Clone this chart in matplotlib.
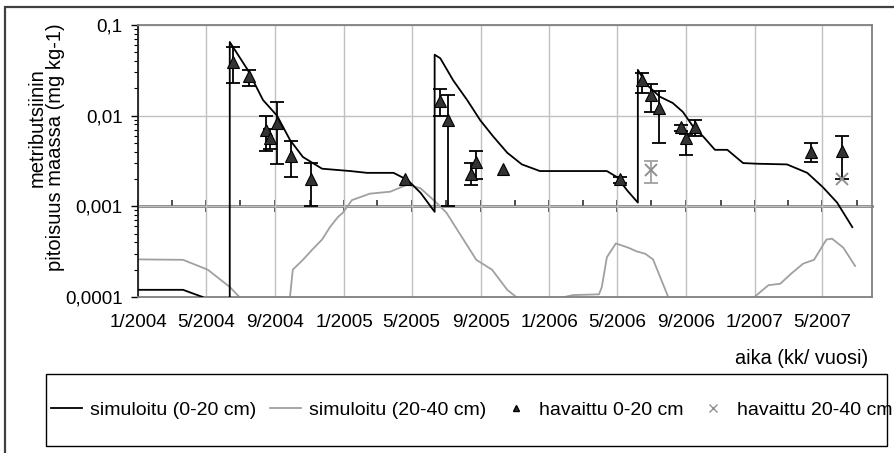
import numpy as np
import matplotlib
matplotlib.use("Agg")
import matplotlib.pyplot as plt
import matplotlib.dates as mdates
from matplotlib.lines import Line2D
from matplotlib.patches import Rectangle

plt.rcParams['font.family'] = ['Liberation Sans', 'DejaVu Sans']
plt.rcParams['font.size'] = 14.3

# simulated concentration, 0-20 cm layer (application days appear twice: before/after)
sim_top_dates = [
    '2004-01-01', '2004-03-21', '2004-04-10', '2004-04-25', '2004-05-15', '2004-06-12',
    '2004-06-12', '2004-07-14', '2004-08-10', '2004-09-04', '2004-09-27', '2004-10-20',
    '2004-11-23', '2005-01-12', '2005-02-11', '2005-03-30', '2005-04-24', '2005-05-17',
    '2005-06-11', '2005-06-11', '2005-06-21', '2005-07-14', '2005-08-08', '2005-08-31',
    '2005-09-23', '2005-10-18', '2005-11-13', '2005-12-15', '2006-04-13', '2006-05-01',
    '2006-05-19', '2006-06-07', '2006-06-07', '2006-06-23', '2006-07-16', '2006-08-08',
    '2006-08-26', '2006-09-13', '2006-10-01', '2006-10-22', '2006-11-13', '2006-12-11',
    '2007-01-05', '2007-02-27', '2007-04-04', '2007-05-02', '2007-05-27', '2007-06-23',
]
sim_top_values = [
    0.00012, 0.00012, 0.000108, 0.0001, 0.00007, 0.00004,
    0.065, 0.0319, 0.0149, 0.0100, 0.0054, 0.0035,
    0.0026, 0.00245, 0.00234, 0.00234, 0.00195, 0.00141,
    0.00087, 0.047, 0.043, 0.0245, 0.0148, 0.0089,
    0.0059, 0.0039, 0.0029, 0.00245, 0.00245, 0.0021,
    0.0015, 0.0011, 0.032, 0.0219, 0.0162, 0.0138,
    0.011, 0.0076, 0.0059, 0.0042, 0.0042, 0.0030,
    0.00295, 0.0029, 0.00234, 0.00162, 0.0011, 0.00059,
]

# simulated concentration, 20-40 cm layer
sim_sub_dates = [
    '2004-01-01', '2004-03-21', '2004-05-04', '2004-06-12', '2004-07-04', '2004-08-15',
    '2004-09-27', '2004-10-02', '2004-10-20', '2004-11-05', '2004-11-23', '2004-12-07',
    '2004-12-21', '2004-12-30', '2005-01-15', '2005-02-16', '2005-03-24', '2005-04-24',
    '2005-05-17', '2005-06-14', '2005-07-02', '2005-08-24', '2005-09-21', '2005-10-18',
    '2005-11-03', '2005-12-15', '2006-01-18', '2006-02-12', '2006-03-30', '2006-04-04',
    '2006-04-13', '2006-04-29', '2006-05-21', '2006-06-04', '2006-06-20', '2006-07-04',
    '2006-07-31', '2006-09-30', '2006-12-31', '2007-01-25', '2007-02-15', '2007-03-06',
    '2007-03-28', '2007-04-16', '2007-05-08', '2007-05-18', '2007-06-07', '2007-06-28',
]
sim_sub_values = [
    0.00026, 0.000257, 0.0002, 0.000129, 0.000093, 0.00005,
    0.0001, 0.0002, 0.000257, 0.00033, 0.00043, 0.00059,
    0.00076, 0.00085, 0.00117, 0.00138, 0.00145, 0.00174,
    0.00158, 0.0011, 0.00085, 0.000257, 0.0002, 0.00012,
    0.0001, 0.00006, 0.000097, 0.000105, 0.000107, 0.000129,
    0.000275, 0.00039, 0.00035, 0.00032, 0.0003, 0.00026,
    0.0001, 0.00005, 0.0001, 0.000135, 0.00014, 0.00018,
    0.000234, 0.000257, 0.00043, 0.00044, 0.00035, 0.00022,
]

# measured 0-20 cm: mean with min/max (nan = no range given)
obs_top_dates = [
    '2004-06-17', '2004-07-16', '2004-08-15', '2004-08-22', '2004-09-04', '2004-09-29',
    '2004-11-03', '2005-04-19', '2005-06-20', '2005-07-04', '2005-08-14', '2005-08-23',
    '2005-10-10', '2006-05-06', '2006-06-14', '2006-07-01', '2006-07-14', '2006-08-22',
    '2006-08-31', '2006-09-17', '2007-04-11', '2007-06-04',
]
obs_top_values = [
    0.039, 0.0275, 0.0069, 0.0056, 0.0083, 0.0036,
    0.0020, 0.0020, 0.0145, 0.0089, 0.0023, 0.0031,
    0.0026, 0.0020, 0.0247, 0.017, 0.012, 0.0075,
    0.0057, 0.0075, 0.0040, 0.0041,
]
obs_top_low = [
    0.023, 0.021, 0.0041, 0.0043, 0.0029, 0.0021,
    0.001, np.nan, 0.010, 0.001, 0.0017, 0.0020,
    np.nan, 0.0018, 0.0178, 0.011, 0.0050, 0.0068,
    0.0037, 0.0059, 0.0031, 0.0020,
]
obs_top_high = [
    0.057, 0.032, 0.0098, 0.0072, 0.014, 0.0052,
    0.0030, np.nan, 0.0196, 0.017, 0.0030, 0.0041,
    np.nan, 0.0021, 0.0295, 0.0224, 0.0187, 0.0079,
    0.0063, 0.0089, 0.0050, 0.0060,
]

# measured 20-40 cm
obs_sub_dates = ['2006-07-01', '2007-06-04']
obs_sub_values = [0.0025, 0.0020]
obs_sub_low = [0.0018, np.nan]
obs_sub_high = [0.0032, np.nan]

y_ticks = [0.0001, 0.001, 0.01, 0.1]
y_tick_labels = ['0,0001', '0,001', '0,01', '0,1']

legend_labels = ['simuloitu (0-20 cm)', 'simuloitu (20-40 cm)',
                 'havaittu 0-20 cm', 'havaittu 20-40 cm']


def to_dates(values):
    return np.array(values, dtype='datetime64[D]')


def error_range(values, low, high):
    values = np.array(values)
    return [values - np.array(low), np.array(high) - values]


W, H = 895, 453
fig = plt.figure(figsize=(W / 100, H / 100), dpi=100)
ax = fig.add_axes([138 / W, 1 - 297 / H, (872 - 138) / W, (297 - 25) / H])

ax.plot(to_dates(sim_top_dates), sim_top_values, color='black', lw=1.3, zorder=3)
ax.plot(to_dates(sim_sub_dates), sim_sub_values, color='#a0a0a0', lw=1.3, zorder=2)

ax.errorbar(to_dates(obs_top_dates), obs_top_values,
            yerr=error_range(obs_top_values, obs_top_low, obs_top_high),
            fmt='none', ecolor='black', elinewidth=1.3, capsize=5, capthick=1.3, zorder=4)
ax.plot(to_dates(obs_top_dates), obs_top_values, '^', ms=8,
        mfc='#333333', mec='black', mew=0.8, zorder=5)

ax.errorbar(to_dates(obs_sub_dates), obs_sub_values,
            yerr=error_range(obs_sub_values, obs_sub_low, obs_sub_high),
            fmt='none', ecolor='#a0a0a0', elinewidth=1.3, capsize=5, capthick=1.3, zorder=4)
ax.plot(to_dates(obs_sub_dates), obs_sub_values, 'x', ms=8,
        color='#909090', mew=1.4, zorder=5)

ax.set_yscale('log')
ax.set_ylim(0.0001, 0.1)
ax.set_xlim(np.datetime64('2004-01-01'), np.datetime64('2007-07-28'))
ax.set_yticks(y_ticks, y_tick_labels)
ax.yaxis.set_minor_formatter(plt.NullFormatter())

ax.xaxis.set_major_locator(mdates.MonthLocator(bymonth=[1, 5, 9]))
ax.xaxis.set_major_formatter(plt.FuncFormatter(
    lambda v, pos: f'{mdates.num2date(v).month}/{mdates.num2date(v).year}'))

ax.grid(axis='x', which='major', color='#c0c0c0', lw=1)
ax.grid(axis='y', which='major', color='#c0c0c0', lw=1)
ax.set_axisbelow(True)

for side in ['top', 'right', 'bottom']:
    ax.spines[side].set_color('#808080')
    ax.spines[side].set_linewidth(1.3)
ax.spines['left'].set_color('#202020')
ax.spines['left'].set_linewidth(1.3)

ax.tick_params(axis='x', which='both', length=0, pad=12, labelsize=13.6)
ax.tick_params(axis='y', which='major', direction='out', length=5, width=1, pad=6,
               labelsize=13.6)
ax.tick_params(axis='y', which='minor', direction='out', length=3, width=0.8)

# category axis crosses the value axis at 0,001
cross = ax.secondary_xaxis(1 / 3)
cross.xaxis.set_major_locator(mdates.MonthLocator(bymonth=[1, 5, 9]))
cross.xaxis.set_minor_locator(mdates.MonthLocator(bymonth=[3, 7, 11]))
cross.tick_params(which='major', direction='inout', length=8, width=1.2, color='#303030',
                  labelbottom=False, labeltop=False)
cross.tick_params(which='minor', direction='in', length=4, width=1.2, color='#303030')
for spine in cross.spines.values():
    spine.set_color('#606060')
    spine.set_linewidth(1.8)

fig.text(37 / W, 1 - 128 / H, 'metributsiinin', rotation=90, ha='center', va='center',
         fontsize=14.5)
fig.text(56 / W, 1 - 147 / H, 'pitoisuus maassa (mg kg-1)', rotation=90,
         ha='center', va='center', fontsize=14.5)
fig.text(868 / W, 1 - 358 / H, 'aika (kk/ vuosi)', ha='right', va='center')

# chart frame and legend frame
fig.add_artist(Rectangle((5 / W, -0.1), 2, 1.1 - 7 / H, transform=fig.transFigure,
                         fill=False, edgecolor='#404040', lw=1.6))
fig.add_artist(Rectangle((46 / W, 1 - 446 / H), (887 - 46) / W, (446 - 374) / H,
                         transform=fig.transFigure, fill=False, edgecolor='black', lw=1))

handles = [
    Line2D([], [], color='black', lw=1.3),
    Line2D([], [], color='#a0a0a0', lw=1.3),
    Line2D([], [], ls='none', marker='^', ms=5, mfc='#333333', mec='black'),
    Line2D([], [], ls='none', marker='x', ms=6, color='#909090', mew=1),
]
fig.legend(handles, legend_labels, loc='center left', ncol=4, frameon=False,
           bbox_to_anchor=(51 / W, 1 - 410 / H), fontsize=14,
           borderaxespad=0, borderpad=0, handlelength=1.6, handletextpad=0.4,
           columnspacing=0.72)

fig.savefig('out.png', dpi=100)
